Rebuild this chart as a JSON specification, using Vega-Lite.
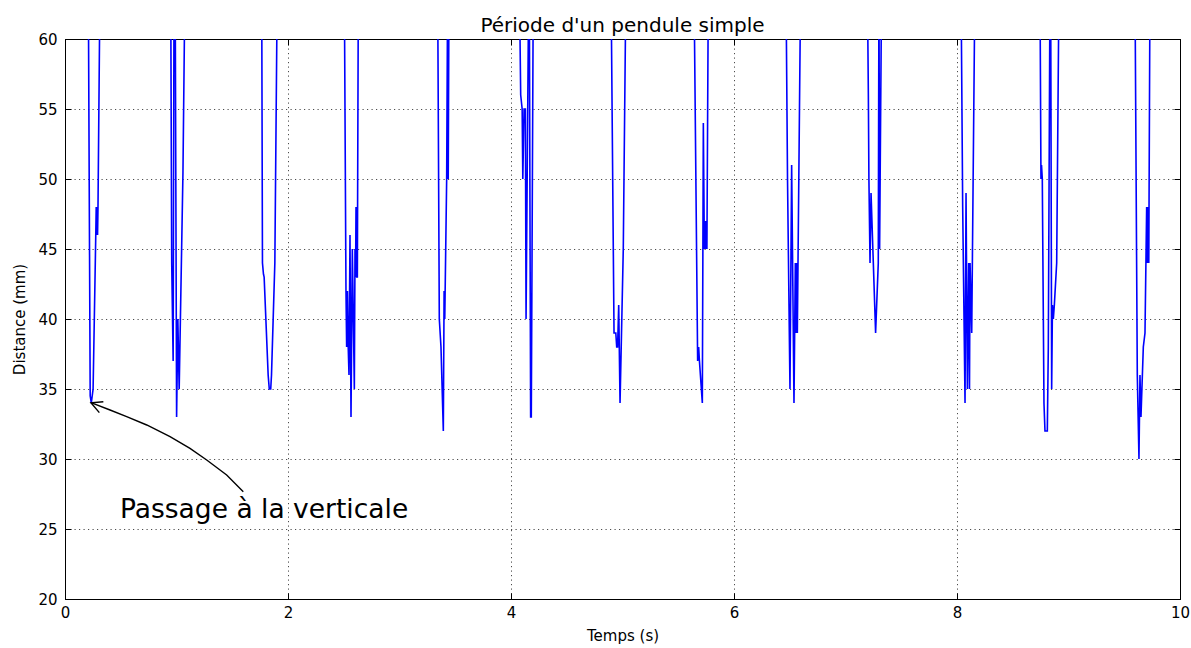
{
  "$schema": "https://vega.github.io/schema/vega-lite/v6.json",
  "width": 1115,
  "height": 560,
  "autosize": {"type": "none"},
  "padding": {"left": 65, "top": 39, "right": 11, "bottom": 49},
  "background": "white",
  "title": {"text": "Période d'un pendule simple", "font": "DejaVu Sans", "fontSize": 20, "fontWeight": "normal", "color": "black", "offset": -20, "baseline": "alphabetic"},
  "config": {
    "view": {"stroke": "black", "strokeWidth": 1},
    "axis": {"labelFont": "DejaVu Sans", "titleFont": "DejaVu Sans", "labelFontSize": 15, "titleFontSize": 15, "titleFontWeight": "normal", "labelColor": "black", "titleColor": "black", "domainColor": "black", "tickColor": "black", "gridColor": "black", "gridOpacity": 0.7, "gridDash": [1.2, 3.3], "gridWidth": 1}
  },
  "datasets": {
    "mesures": [
      {"t": 0.0, "d": 64},
      {"t": 0.209, "d": 64}, {"t": 0.226, "d": 34.5}, {"t": 0.236, "d": 34}, {"t": 0.252, "d": 35}, {"t": 0.276, "d": 46}, {"t": 0.280, "d": 48}, {"t": 0.284, "d": 46}, {"t": 0.288, "d": 48}, {"t": 0.292, "d": 46}, {"t": 0.296, "d": 48}, {"t": 0.314, "d": 64},
      {"t": 0.948, "d": 64}, {"t": 0.957, "d": 44}, {"t": 0.970, "d": 37}, {"t": 0.978, "d": 64}, {"t": 0.988, "d": 64}, {"t": 1.001, "d": 33}, {"t": 1.012, "d": 40}, {"t": 1.024, "d": 35}, {"t": 1.058, "d": 50.5}, {"t": 1.076, "d": 64},
      {"t": 1.764, "d": 64}, {"t": 1.771, "d": 44}, {"t": 1.780, "d": 43.2}, {"t": 1.786, "d": 43}, {"t": 1.822, "d": 36}, {"t": 1.832, "d": 35}, {"t": 1.845, "d": 35}, {"t": 1.852, "d": 36}, {"t": 1.882, "d": 44}, {"t": 1.904, "d": 64},
      {"t": 2.505, "d": 64}, {"t": 2.520, "d": 42}, {"t": 2.526, "d": 38}, {"t": 2.533, "d": 42}, {"t": 2.540, "d": 38}, {"t": 2.547, "d": 36}, {"t": 2.556, "d": 46}, {"t": 2.565, "d": 33}, {"t": 2.577, "d": 45}, {"t": 2.595, "d": 35}, {"t": 2.601, "d": 45}, {"t": 2.606, "d": 43}, {"t": 2.610, "d": 48}, {"t": 2.616, "d": 43}, {"t": 2.622, "d": 43}, {"t": 2.631, "d": 64},
      {"t": 3.342, "d": 64}, {"t": 3.357, "d": 40}, {"t": 3.372, "d": 38}, {"t": 3.393, "d": 32}, {"t": 3.400, "d": 42}, {"t": 3.406, "d": 40}, {"t": 3.423, "d": 50}, {"t": 3.432, "d": 64}, {"t": 3.437, "d": 50}, {"t": 3.444, "d": 64},
      {"t": 4.075, "d": 64}, {"t": 4.087, "d": 56}, {"t": 4.100, "d": 55}, {"t": 4.106, "d": 50}, {"t": 4.117, "d": 55}, {"t": 4.129, "d": 55}, {"t": 4.135, "d": 40}, {"t": 4.159, "d": 64}, {"t": 4.164, "d": 64}, {"t": 4.176, "d": 33}, {"t": 4.182, "d": 33}, {"t": 4.200, "d": 64},
      {"t": 4.897, "d": 64}, {"t": 4.924, "d": 39}, {"t": 4.940, "d": 39}, {"t": 4.948, "d": 38}, {"t": 4.956, "d": 38}, {"t": 4.966, "d": 41}, {"t": 4.978, "d": 34}, {"t": 5.007, "d": 45}, {"t": 5.031, "d": 64},
      {"t": 5.641, "d": 64}, {"t": 5.674, "d": 37}, {"t": 5.683, "d": 38}, {"t": 5.690, "d": 37}, {"t": 5.716, "d": 34}, {"t": 5.725, "d": 54}, {"t": 5.734, "d": 45}, {"t": 5.740, "d": 47}, {"t": 5.746, "d": 45}, {"t": 5.751, "d": 47}, {"t": 5.757, "d": 45}, {"t": 5.770, "d": 64},
      {"t": 6.466, "d": 64}, {"t": 6.480, "d": 50}, {"t": 6.502, "d": 35}, {"t": 6.517, "d": 51}, {"t": 6.538, "d": 34}, {"t": 6.550, "d": 44}, {"t": 6.556, "d": 39}, {"t": 6.562, "d": 44}, {"t": 6.568, "d": 39}, {"t": 6.598, "d": 64},
      {"t": 7.196, "d": 64}, {"t": 7.205, "d": 56}, {"t": 7.210, "d": 50}, {"t": 7.220, "d": 44}, {"t": 7.229, "d": 49}, {"t": 7.270, "d": 39}, {"t": 7.294, "d": 44}, {"t": 7.300, "d": 64}, {"t": 7.306, "d": 45}, {"t": 7.324, "d": 64},
      {"t": 8.036, "d": 64}, {"t": 8.051, "d": 48}, {"t": 8.072, "d": 34}, {"t": 8.081, "d": 49}, {"t": 8.093, "d": 35}, {"t": 8.105, "d": 44}, {"t": 8.112, "d": 35}, {"t": 8.117, "d": 44}, {"t": 8.132, "d": 39}, {"t": 8.161, "d": 64},
      {"t": 8.744, "d": 64}, {"t": 8.753, "d": 50}, {"t": 8.758, "d": 51}, {"t": 8.765, "d": 50}, {"t": 8.780, "d": 34}, {"t": 8.789, "d": 32}, {"t": 8.810, "d": 32}, {"t": 8.819, "d": 38}, {"t": 8.834, "d": 64}, {"t": 8.840, "d": 64}, {"t": 8.849, "d": 35}, {"t": 8.856, "d": 41}, {"t": 8.864, "d": 40}, {"t": 8.873, "d": 41}, {"t": 8.894, "d": 44}, {"t": 8.915, "d": 64},
      {"t": 9.596, "d": 64}, {"t": 9.617, "d": 36}, {"t": 9.632, "d": 30}, {"t": 9.641, "d": 36}, {"t": 9.650, "d": 33}, {"t": 9.671, "d": 38}, {"t": 9.686, "d": 39}, {"t": 9.701, "d": 48}, {"t": 9.708, "d": 44}, {"t": 9.714, "d": 48}, {"t": 9.720, "d": 44}, {"t": 9.731, "d": 64},
      {"t": 10.0, "d": 64}
    ],
    "fleche": [
      {"part": "courbe", "ord": 1, "t": 0.233, "d": 34.02},
      {"part": "courbe", "ord": 2, "t": 0.404, "d": 33.5},
      {"part": "courbe", "ord": 3, "t": 0.553, "d": 33.02},
      {"part": "courbe", "ord": 4, "t": 0.733, "d": 32.43},
      {"part": "courbe", "ord": 5, "t": 0.942, "d": 31.59},
      {"part": "courbe", "ord": 6, "t": 1.121, "d": 30.76},
      {"part": "courbe", "ord": 7, "t": 1.271, "d": 29.93},
      {"part": "courbe", "ord": 8, "t": 1.450, "d": 28.86},
      {"part": "courbe", "ord": 9, "t": 1.599, "d": 27.66},
      {"part": "pointe", "ord": 1, "t": 0.344, "d": 34.09},
      {"part": "pointe", "ord": 2, "t": 0.233, "d": 34.02},
      {"part": "pointe", "ord": 3, "t": 0.308, "d": 33.31}
    ],
    "annotation": [
      {"t": 0.493, "d": 25.76, "texte": "Passage à la verticale"}
    ]
  },
  "layer": [
    {
      "data": {"name": "mesures"},
      "mark": {"type": "line", "color": "#0000ff", "strokeWidth": 1.6, "clip": true},
      "encoding": {
        "x": {"field": "t", "type": "quantitative", "scale": {"domain": [0, 10], "nice": false, "zero": false},
              "axis": {"orient": "bottom", "title": "Temps (s)", "values": [0, 2, 4, 6, 8, 10], "grid": true, "tickSize": -6, "labelPadding": 12, "titlePadding": 8, "labelFlush": false}},
        "y": {"field": "d", "type": "quantitative", "scale": {"domain": [20, 60], "nice": false, "zero": false},
              "axis": {"orient": "left", "title": "Distance (mm)", "values": [20, 25, 30, 35, 40, 45, 50, 55, 60], "grid": true, "tickSize": -6, "labelPadding": 14, "titlePadding": 10, "labelFlush": false}}
      }
    },
    {
      "data": {"name": "fleche"},
      "mark": {"type": "line", "color": "black", "strokeWidth": 1.4, "clip": true},
      "encoding": {
        "x": {"field": "t", "type": "quantitative", "axis": null},
        "y": {"field": "d", "type": "quantitative", "axis": null},
        "detail": {"field": "part"},
        "order": {"field": "ord", "type": "quantitative"}
      }
    },
    {
      "data": {"name": "annotation"},
      "mark": {"type": "text", "font": "DejaVu Sans", "fontSize": 26.5, "align": "left", "baseline": "alphabetic", "color": "black"},
      "encoding": {
        "x": {"field": "t", "type": "quantitative",
              "axis": {"orient": "top", "title": null, "labels": false, "grid": false, "values": [0, 2, 4, 6, 8, 10], "tickSize": -6}},
        "y": {"field": "d", "type": "quantitative",
              "axis": {"orient": "right", "title": null, "labels": false, "grid": false, "values": [20, 25, 30, 35, 40, 45, 50, 55, 60], "tickSize": -6}},
        "text": {"field": "texte"}
      }
    }
  ],
  "resolve": {"axis": {"x": "independent", "y": "independent"}}
}
